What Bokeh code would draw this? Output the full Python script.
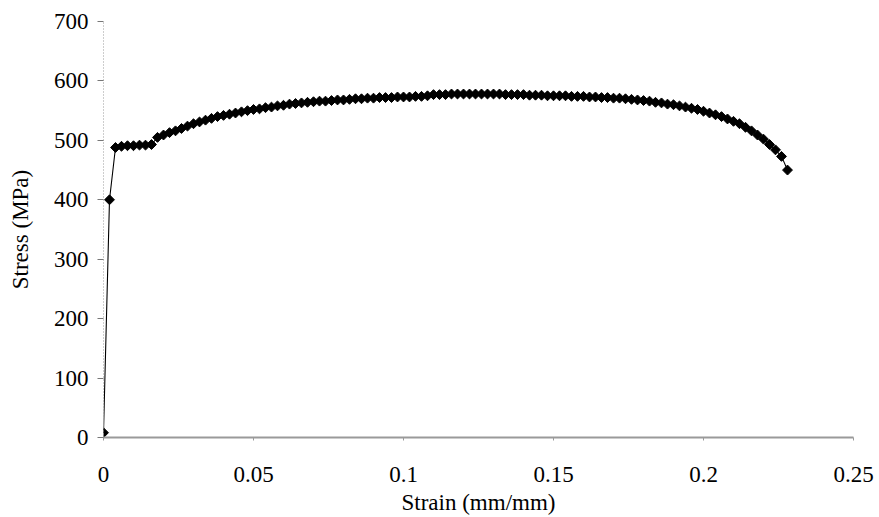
import math
from bokeh.plotting import figure
from bokeh.models import FixedTicker
from bokeh.embed import file_html
from bokeh.resources import INLINE

strain = [0.000, 0.002, 0.004, 0.006, 0.008, 0.010, 0.012, 0.014, 0.016, 0.018,
          0.020, 0.022, 0.024, 0.026, 0.028, 0.030, 0.032, 0.034, 0.036, 0.038,
          0.040, 0.042, 0.044, 0.046, 0.048, 0.050, 0.052, 0.054, 0.056, 0.058,
          0.060, 0.062, 0.064, 0.066, 0.068, 0.070, 0.072, 0.074, 0.076, 0.078,
          0.080, 0.082, 0.084, 0.086, 0.088, 0.090, 0.092, 0.094, 0.096, 0.098,
          0.100, 0.102, 0.104, 0.106, 0.108, 0.110, 0.112, 0.114, 0.116, 0.118,
          0.120, 0.122, 0.124, 0.126, 0.128, 0.130, 0.132, 0.134, 0.136, 0.138,
          0.140, 0.142, 0.144, 0.146, 0.148, 0.150, 0.152, 0.154, 0.156, 0.158,
          0.160, 0.162, 0.164, 0.166, 0.168, 0.170, 0.172, 0.174, 0.176, 0.178,
          0.180, 0.182, 0.184, 0.186, 0.188, 0.190, 0.192, 0.194, 0.196, 0.198,
          0.200, 0.202, 0.204, 0.206, 0.208, 0.210, 0.212, 0.214, 0.216, 0.218,
          0.220, 0.222, 0.224, 0.226, 0.228]

stress = [8, 400, 488, 490, 491, 491, 492, 492, 493, 505,
          509, 513, 516, 520, 524, 528, 531, 534, 537, 540,
          542, 544, 546, 548, 550, 552, 553, 555, 556, 558,
          559, 561, 562, 563, 564, 565, 566, 566, 567, 568,
          568, 569, 570, 570, 571, 571, 572, 572, 572, 573,
          573, 573, 574, 574, 575, 577, 577, 577, 578, 578,
          578, 578, 578, 578, 578, 578, 578, 577, 577, 577,
          577, 576, 576, 576, 575, 575, 575, 575, 574, 574,
          574, 573, 573, 572, 572, 571, 571, 570, 569, 568,
          567, 566, 564, 563, 561, 560, 558, 556, 554, 552,
          549, 546, 543, 540, 536, 532, 528, 522, 516, 509,
          502, 493, 484, 473, 450]

x_ticks = [0, 0.05, 0.1, 0.15, 0.2, 0.25]
x_tick_labels = ["0", "0.05", "0.1", "0.15", "0.2", "0.25"]
y_ticks = [0, 100, 200, 300, 400, 500, 600, 700]

x_title = "Strain (mm/mm)"
y_title = "Stress (MPa)"

FONT = "Liberation Serif"

p = figure(width=879, height=517, x_range=(0, 0.25), y_range=(0, 700),
           output_backend="svg", toolbar_location=None,
           min_border_left=103, min_border_right=26,
           min_border_top=21, min_border_bottom=80)
p.outline_line_color = None
p.xgrid.grid_line_color = None
p.ygrid.grid_line_color = None
p.background_fill_color = "white"
p.border_fill_color = "white"

p.line(strain, stress, line_color="black", line_width=1.1)
p.scatter(strain, stress, marker="square", angle=math.pi / 4, size=7,
          fill_color="black", line_color="black")

# X axis
p.xaxis.ticker = FixedTicker(ticks=x_ticks)
p.xaxis.major_label_overrides = {t: l for t, l in zip(x_ticks, x_tick_labels)}
p.xaxis.axis_line_color = "#9a9a9a"
p.xaxis.axis_line_width = 2
p.xaxis.major_tick_line_color = "#9a9a9a"
p.xaxis.major_tick_out = 3
p.xaxis.major_tick_in = 0
p.xaxis.minor_tick_line_color = None
p.xaxis.major_label_standoff = 26
p.xaxis.major_label_text_font = FONT
p.xaxis.major_label_text_font_size = "23px"
p.xaxis.major_label_text_color = "black"
p.xaxis.axis_label = x_title
p.xaxis.axis_label_text_font = FONT
p.xaxis.axis_label_text_font_size = "23px"
p.xaxis.axis_label_text_font_style = "normal"
p.xaxis.axis_label_text_color = "black"
p.xaxis.axis_label_standoff = 5

# Y axis
p.yaxis.ticker = FixedTicker(ticks=y_ticks)
p.yaxis.axis_line_color = "#9a9a9a"
p.yaxis.axis_line_dash = "1 2"
p.yaxis.axis_line_width = 1
p.yaxis.major_tick_line_color = "#777777"
p.yaxis.major_tick_out = 6
p.yaxis.major_tick_in = 0
p.yaxis.minor_tick_line_color = None
p.yaxis.major_label_standoff = 9
p.yaxis.major_label_text_font = FONT
p.yaxis.major_label_text_font_size = "23px"
p.yaxis.major_label_text_color = "black"
p.yaxis.axis_label = y_title
p.yaxis.axis_label_text_font = FONT
p.yaxis.axis_label_text_font_size = "23px"
p.yaxis.axis_label_text_font_style = "normal"
p.yaxis.axis_label_text_color = "black"
p.yaxis.axis_label_standoff = 18

open("out.html", "w").write(file_html(p, INLINE))
